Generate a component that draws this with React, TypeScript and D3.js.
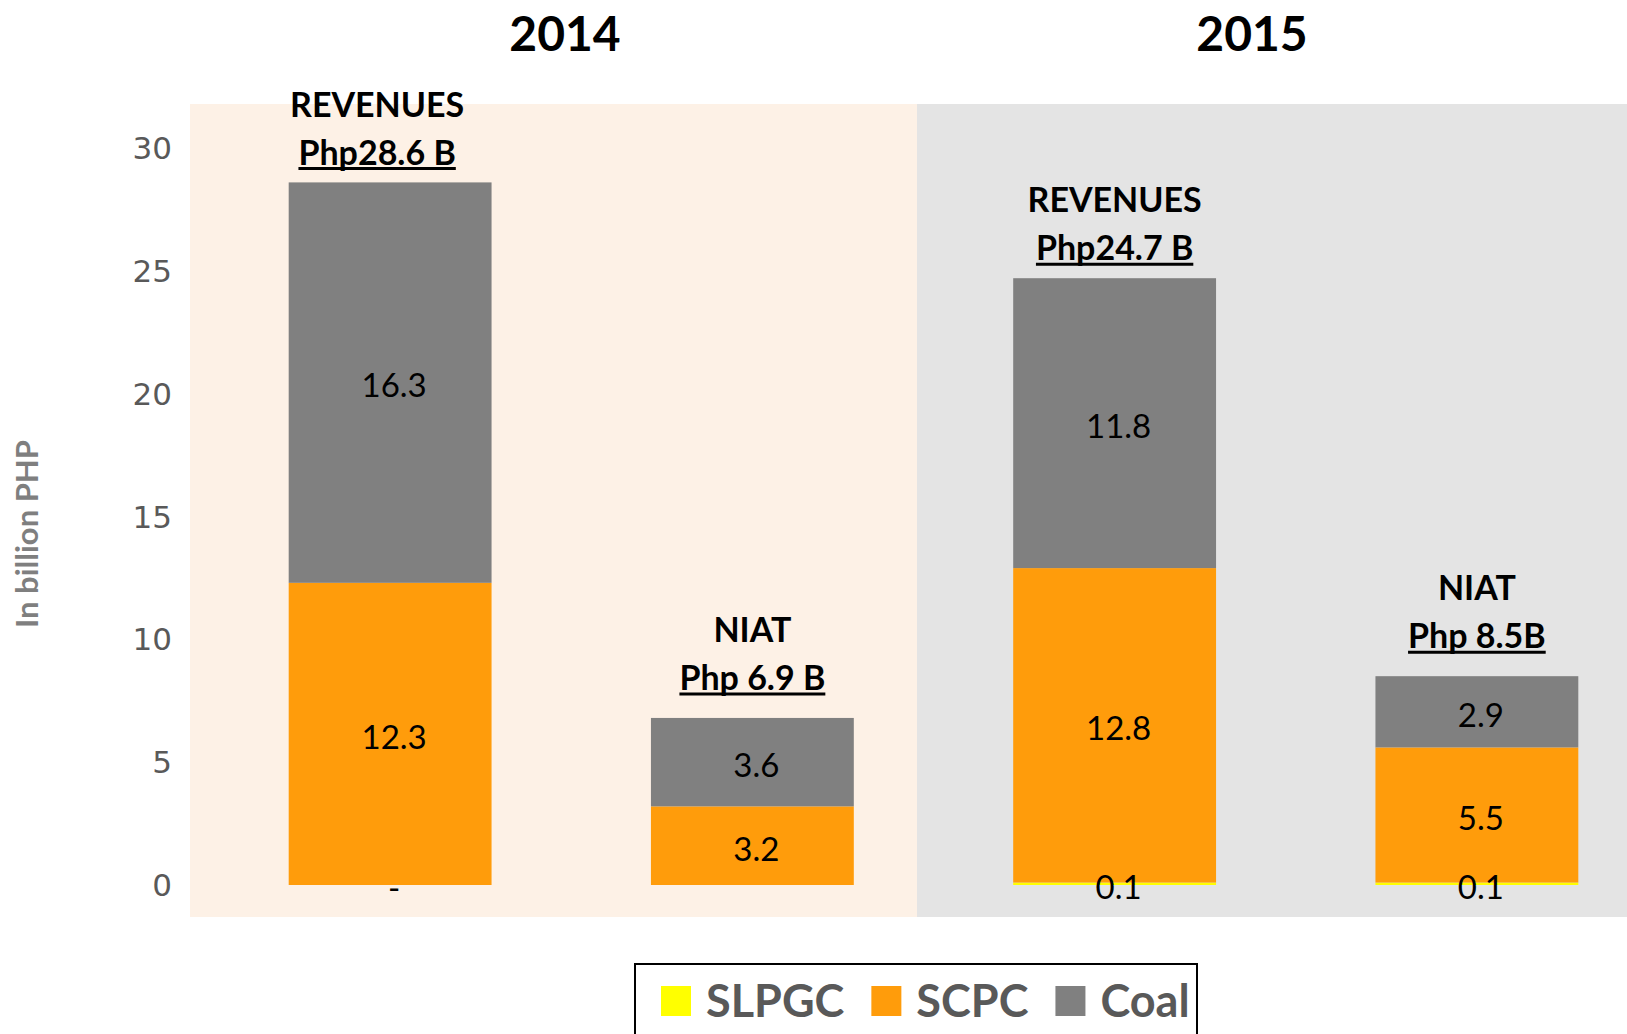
import * as d3 from "d3";
import React, { useEffect, useRef } from "react";

const categories = ["Revenues 2014", "NIAT 2014", "Revenues 2015", "NIAT 2015"];
const series = ["SLPGC", "SCPC", "Coal"];
const slpgc = [0, 0, 0.1, 0.1];
const scpc = [12.3, 3.2, 12.8, 5.5];
const coal = [16.3, 3.6, 11.8, 2.9];
const slpgcLabels = ["-", "", "0.1", "0.1"];
const headTitles = ["REVENUES", "NIAT", "REVENUES", "NIAT"];
const headValues = ["Php28.6 B", "Php 6.9 B", "Php24.7 B", "Php 8.5B"];
const years = ["2014", "2015"];
const yTicks = [0, 5, 10, 15, 20, 25, 30];

const colors = { SLPGC: "#ffff00", SCPC: "#ff9c0b", Coal: "#808080" };
const FONT = "Lato, 'Open Sans', sans-serif";

export default function App() {
  const svgRef = useRef(null);

  useEffect(() => {
    const svg = d3.select(svgRef.current);
    svg.selectAll("*").remove();

    const width = 1627;

    const x = d3.scaleBand()
      .domain(categories)
      .range([209, 1658])
      .paddingInner(0.44)
      .paddingOuter(0.22);

    const y = d3.scaleLinear().domain([0, 30]).range([885, 148]);

    // Year background panels
    const panels = [
      { x0: 190, x1: 917, fill: "#fdf1e6", year: years[0], lx: 565 },
      { x0: 917, x1: width, fill: "#e4e4e4", year: years[1], lx: 1252 },
    ];
    svg.selectAll("rect.panel")
      .data(panels)
      .join("rect")
      .attr("class", "panel")
      .attr("x", d => d.x0)
      .attr("y", 104)
      .attr("width", d => d.x1 - d.x0)
      .attr("height", 917 - 104)
      .attr("fill", d => d.fill);

    svg.selectAll("text.year")
      .data(panels)
      .join("text")
      .attr("class", "year")
      .attr("x", d => d.lx)
      .attr("y", 34)
      .attr("dy", "0.36em")
      .attr("text-anchor", "middle")
      .style("font-family", FONT)
      .style("font-weight", "bold")
      .style("font-size", "48px")
      .attr("fill", "#000")
      .text(d => d.year);

    // Y tick labels
    svg.selectAll("text.tick")
      .data(yTicks)
      .join("text")
      .attr("class", "tick")
      .attr("x", 172)
      .attr("y", d => y(d))
      .attr("dy", "0.36em")
      .attr("text-anchor", "end")
      .style("font-family", "'DejaVu Sans', sans-serif")
      .style("font-size", "31px")
      .attr("fill", "#595959")
      .text(d => d);

    // Y axis title
    svg.append("text")
      .attr("transform", "translate(27,534) rotate(-90)")
      .attr("dy", "0.36em")
      .attr("text-anchor", "middle")
      .style("font-family", FONT)
      .style("font-weight", "bold")
      .style("font-size", "31px")
      .attr("fill", "#7f7f7f")
      .text("In billion PHP");

    // Stacked bars
    const rows = categories.map((c, i) => ({
      cat: c, SLPGC: slpgc[i], SCPC: scpc[i], Coal: coal[i],
    }));
    const stacked = d3.stack().keys(series)(rows);

    const layers = svg.selectAll("g.layer")
      .data(stacked)
      .join("g")
      .attr("class", "layer")
      .attr("fill", d => colors[d.key]);

    layers.selectAll("rect")
      .data(d => d.map(s => ({ s, key: d.key })))
      .join("rect")
      .attr("x", d => x(d.s.data.cat))
      .attr("y", d => y(d.s[1]))
      .attr("width", x.bandwidth())
      .attr("height", d => y(d.s[0]) - y(d.s[1]));

    // Segment labels (sit slightly right of centre, as in the source)
    stacked.forEach(layer => {
      svg.append("g")
        .selectAll("text")
        .data(layer)
        .join("text")
        .attr("x", d => x(d.data.cat) + x.bandwidth() / 2 + 4)
        .attr("y", d => y((d[0] + d[1]) / 2))
        .attr("dy", "0.45em")
        .attr("text-anchor", "middle")
        .style("font-family", FONT)
        .style("font-size", "33px")
        .attr("fill", "#000")
        .text((d, i) => layer.key === "SLPGC" ? slpgcLabels[i] : d3.format(".1f")(d[1] - d[0]));
    });

    // Bar head annotations
    const totals = rows.map(r => r.SLPGC + r.SCPC + r.Coal);
    categories.forEach((c, i) => {
      const cx = x(c) + x.bandwidth() / 2 - (i === 0 ? 13 : 0);
      const top = y(totals[i]);
      const isRev = headTitles[i] === "REVENUES";
      const y2 = top - (isRev ? 30 : 40);
      svg.append("text")
        .attr("x", cx)
        .attr("y", y2 - 48)
        .attr("dy", "0.36em")
        .attr("text-anchor", "middle")
        .style("font-family", FONT)
        .style("font-weight", "bold")
        .style("font-size", "34px")
        .attr("fill", "#000")
        .text(headTitles[i]);
      const t = svg.append("text")
        .attr("x", cx)
        .attr("y", y2)
        .attr("dy", "0.36em")
        .attr("text-anchor", "middle")
        .style("font-family", FONT)
        .style("font-weight", "bold")
        .style("font-size", "34px")
        .attr("fill", "#000")
        .text(headValues[i]);
      const w = t.node().getComputedTextLength();
      svg.append("line")
        .attr("x1", cx - w / 2)
        .attr("x2", cx + w / 2)
        .attr("y1", y2 + 16)
        .attr("y2", y2 + 16)
        .attr("stroke", "#000")
        .attr("stroke-width", 3);
    });

    // Legend
    const legend = svg.append("g");
    legend.append("rect")
      .attr("x", 635)
      .attr("y", 964)
      .attr("width", 1197 - 635)
      .attr("height", 90)
      .attr("fill", "#fff")
      .attr("stroke", "#000")
      .attr("stroke-width", 2);
    let lx = 661;
    series.forEach(s => {
      legend.append("rect")
        .attr("x", lx)
        .attr("y", 986)
        .attr("width", 30)
        .attr("height", 30)
        .attr("fill", colors[s]);
      const t = legend.append("text")
        .attr("x", lx + 45)
        .attr("y", 1001)
        .attr("dy", "0.36em")
        .style("font-family", FONT)
        .style("font-weight", "bold")
        .style("font-size", "45px")
        .attr("fill", "#595959")
        .text(s);
      lx += 45 + t.node().getComputedTextLength() + 27;
    });
  }, []);

  return (
    <svg
      ref={svgRef}
      width={1627}
      height={1034}
      style={{ position: "absolute", left: 0, top: 0, background: "#fff" }}
    ></svg>
  );
}
